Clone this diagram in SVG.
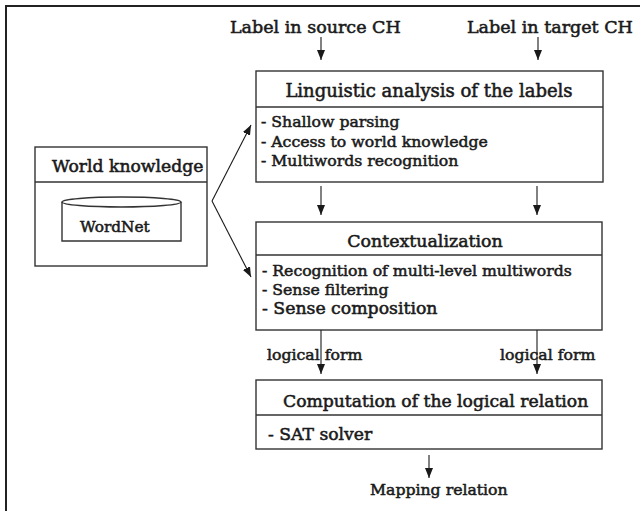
<svg xmlns="http://www.w3.org/2000/svg" width="640" height="511" viewBox="0 0 640 511">
  <defs>
    <marker id="arrow" viewBox="0 0 10 8" refX="10" refY="4" markerWidth="10" markerHeight="8" markerUnits="userSpaceOnUse" orient="auto">
      <path d="M0,0 L10,4 L0,8 z" fill="#1a1a1a"/>
    </marker>
  </defs>
  <style>
    text { font-family: "DejaVu Serif", "Liberation Serif", serif; fill: #1a1a1a; stroke: #1a1a1a; stroke-width: 0.55; }
    .box { fill: none; stroke: #333; stroke-width: 1.4; }
    .div { stroke: #333; stroke-width: 1.4; }
    .con { stroke: #1a1a1a; stroke-width: 1.1; fill: none; marker-end: url(#arrow); }
    .lbl { font-size: 17.5px; }
    .title { font-size: 18px; }
    .item { font-size: 15.7px; }
    .frame { stroke: #222; stroke-width: 2; fill: none; }
  </style>
  <rect x="0" y="0" width="640" height="511" fill="#ffffff"/>
  <path class="frame" d="M6,511 L6,6 L640,6"/>

  <g id="label-source">
    <text class="lbl" x="230" y="33">Label in source CH</text>
  </g>
  <g id="label-target">
    <text class="lbl" x="467" y="33">Label in target CH</text>
  </g>

  <g id="linguistic-analysis">
    <rect class="box" x="256" y="71" width="347" height="111"/>
    <line class="div" x1="256" y1="107" x2="603" y2="107"/>
    <text class="title" x="429" y="97" text-anchor="middle">Linguistic analysis of the labels</text>
    <text class="item" x="261" y="127">- Shallow parsing</text>
    <text class="item" x="261" y="147">- Access to world knowledge</text>
    <text class="item" x="261" y="166">- Multiwords recognition</text>
  </g>

  <g id="world-knowledge">
    <rect class="box" x="35" y="147" width="172" height="119"/>
    <line class="div" x1="35" y1="182" x2="207" y2="182"/>
    <text class="title" x="52" y="172" style="font-size:17.2px">World knowledge</text>
    <g id="wordnet">
      <path class="box" d="M62,202 L62,241 L181,241 L181,202"/>
      <ellipse class="box" cx="121.5" cy="202" rx="59.5" ry="5"/>
      <text class="item" x="80" y="232" style="font-size:15.3px">WordNet</text>
    </g>
  </g>

  <g id="contextualization">
    <rect class="box" x="256" y="222" width="346" height="108"/>
    <line class="div" x1="256" y1="255" x2="602" y2="255"/>
    <text class="title" x="425" y="247" text-anchor="middle" style="font-size:17.4px">Contextualization</text>
    <text class="item" x="262" y="276">- Recognition of multi-level multiwords</text>
    <text class="item" x="262" y="295">- Sense filtering</text>
    <text class="item" x="262" y="314" style="font-size:17.3px">- Sense composition</text>
  </g>

  <g id="computation">
    <rect class="box" x="256" y="380" width="346" height="69"/>
    <line class="div" x1="256" y1="415" x2="602" y2="415"/>
    <text class="title" x="283" y="407" style="font-size:17.2px">Computation of the logical relation</text>
    <text class="item" x="268" y="440" style="font-size:17.2px">- SAT solver</text>
  </g>

  <g id="mapping-relation">
    <text class="item" x="370" y="495">Mapping relation</text>
  </g>

  <g id="connectors">
    <line class="con" x1="321" y1="37" x2="321" y2="60"/>
    <line class="con" x1="538" y1="37" x2="538" y2="60"/>
    <line class="con" x1="212" y1="201" x2="251" y2="125"/>
    <line class="con" x1="212" y1="201" x2="251" y2="277"/>
    <line class="con" x1="321" y1="186" x2="321" y2="215"/>
    <line class="con" x1="537" y1="186" x2="537" y2="215"/>
    <line class="con" x1="321" y1="330" x2="321" y2="374"/>
    <line class="con" x1="537" y1="330" x2="537" y2="374"/>
    <line class="con" x1="429" y1="455" x2="429" y2="478"/>
  </g>

  <g id="logical-form-labels">
    <text class="item" x="267" y="360">logical form</text>
    <text class="item" x="500" y="360">logical form</text>
  </g>
</svg>
